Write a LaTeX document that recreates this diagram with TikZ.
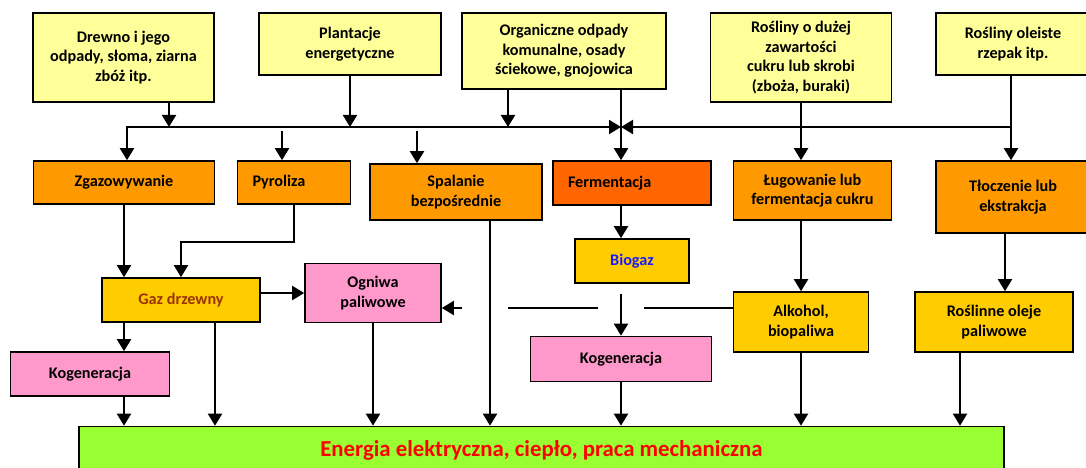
\documentclass[tikz,border=0pt]{standalone}
\usepackage{fontspec}
\setmainfont{Carlito}
\usepackage{tikz}
\usetikzlibrary{arrows.meta,positioning,calc}

\definecolor{srcyellow}{HTML}{FFFF99}
\definecolor{procorange}{HTML}{FF9900}
\definecolor{fermorange}{HTML}{FF6600}
\definecolor{fuelgold}{HTML}{FFCC00}
\definecolor{usepink}{HTML}{FF99CC}
\definecolor{outgreen}{HTML}{99FF33}
\definecolor{gasred}{HTML}{993300}
\definecolor{biogasblue}{HTML}{1A1AFF}

\begin{document}
\begin{tikzpicture}[
    x=1pt, y=-1pt,
    every node/.style={font=\fontsize{16.2}{19.5}\selectfont\bfseries, align=center, inner sep=2pt},
    size/.style 2 args={minimum width=#1pt, minimum height=#2pt},
    source/.style={rectangle, draw, line width=1.6pt, fill=srcyellow},
    process/.style={rectangle, draw, line width=1.6pt, fill=procorange},
    fuel/.style={rectangle, draw, line width=1.6pt, fill=fuelgold},
    usage/.style={rectangle, draw, line width=1.6pt, fill=usepink},
    output/.style={rectangle, draw, line width=1.6pt, fill=outgreen, font=\fontsize{22.8}{26}\selectfont\bfseries, text=red},
    arrow/.style={-{Triangle[length=12pt, width=14pt]}, line width=2pt},
    arrowboth/.style={{Triangle[length=12pt, width=14pt]}-{Triangle[length=12pt, width=14pt]}, line width=2pt},
    link/.style={line width=2pt}
]
\useasboundingbox (0,0) rectangle (1086,468);

% Sources
\node[source, size={181}{89}] (drewno) at (123.5,57.5) {Drewno i jego\\odpady, słoma, ziarna\\zbóż itp.};
\node[source, size={182}{62}] (plantacje) at (350,44) {Plantacje\\energetyczne};
\node[source, size={204}{76}] (organiczne) at (564,51) {Organiczne odpady\\komunalne, osady\\ściekowe, gnojowica};
\node[source, size={181}{89}] (cukier) at (801,57.5) {Rośliny o dużej\\zawartości\\cukru lub skrobi\\(zboża, buraki)};
\node[source, size={154}{62}] (oleiste) at (1013,44) {Rośliny oleiste\\rzepak itp.};

% Processes
\node[process, size={181}{43}] (zgaz) at (124,182.5) {Zgazowywanie};
\node[process, size={113}{43}, text width=83pt, inner xsep=15pt, align=left] (pyroliza) at (294,182.5) {Pyroliza};
\node[process, size={172}{56}] (spalanie) at (456,192) {Spalanie\\bezpośrednie};
\node[process, fill=fermorange, size={158}{44}, text width=128pt, inner xsep=15pt, align=left] (ferment) at (632,183) {Fermentacja};
\node[process, size={158}{59}] (lugowanie) at (812.5,190.5) {Ługowanie lub\\fermentacja cukru};
\node[process, size={154}{72}] (tloczenie) at (1013,197) {Tłoczenie lub\\ekstrakcja};

% Fuels and conversion
\node[fuel, size={158}{44}, text=gasred] (gaz) at (181,300) {Gaz drzewny};
\node[usage, size={136}{59}] (ogniwa) at (373,293) {Ogniwa\\paliwowe};
\node[fuel, size={114}{44}, text=biogasblue] (biogaz) at (632,261) {Biogaz};
\node[usage, size={159}{44}] (kogenL) at (90,374) {Kogeneracja};
\node[usage, size={181}{45}] (kogenR) at (621,359) {Kogeneracja};
\node[fuel, size={135}{60}] (alkohol) at (801,322) {Alkohol,\\biopaliwa};
\node[fuel, size={158}{60}] (oleje) at (994,322) {Roślinne oleje\\paliwowe};

% Output
\node[output, size={925}{47}] (energia) at (541.5,450) {Energia elektryczna, ciepło, praca mechaniczna};

% Bus
\coordinate (busL) at (127,127);
\coordinate (busR) at (1011,127);
\coordinate (jd) at (169,127);
\coordinate (jo) at (508,127);
\coordinate (jm) at (621,127);
\coordinate (p0) at (282,131);
\coordinate (s0) at (417,131);
\coordinate (pk) at (181,242);

\draw[arrow] (drewno.south -| jd) -- (jd);
\draw[arrow] (plantacje.south) -- (plantacje.south |- jd);
\draw[arrow] (organiczne.south -| jo) -- (jo);
\draw[arrowboth] (jm) -- (busL) -- (zgaz.north -| busL);
\draw[arrow] (oleiste.south -| busR) -- (tloczenie.north -| busR);
\draw[arrow] (busR) -- (jm);
\draw[arrow] (organiczne.south -| jm) -- (ferment.north -| jm);
\draw[arrow] (cukier.south) -- (cukier.south |- lugowanie.north);
\draw[arrow] (p0) -- (pyroliza.north -| p0);
\draw[arrow] (s0) -- (spalanie.north -| s0);

% Middle level
\draw[arrow] (zgaz.south) -- (zgaz.south |- gaz.north);
\draw[arrow] (pyroliza.south) |- (pk) -- (gaz.north);
\draw[arrow] (gaz.east |- ogniwa.west) -- (ogniwa.west);
\draw[arrow] (gaz.south -| zgaz.south) -- (kogenL.north -| zgaz.south);
\draw[arrow] (ferment.south -| jm) -- (biogaz.north -| jm);
\draw[arrow, shorten <=10pt] (biogaz.south -| kogenR.north) -- (kogenR.north);
\draw[arrow] (lugowanie.south -| alkohol.north) -- (alkohol.north);
\coordinate (t1) at ($(tloczenie.south)+(-8,0)$);
\draw[arrow] (t1) -- (t1 |- oleje.north);

% Alkohol to Ogniwa, with gaps at crossings
\coordinate (a1) at (644,308);
\coordinate (a2) at (598,308);
\coordinate (a3) at (508,308);
\coordinate (a4) at (462,308);
\draw[link] (alkohol.west |- a1) -- (a1);
\draw[link] (a2) -- (a3);
\draw[arrow] (a4) -- (ogniwa.east |- a4);

% Into the output
\coordinate (g1) at ($(gaz.south)+(34,0)$);
\coordinate (sp1) at ($(spalanie.south)+(34,0)$);
\coordinate (o1) at ($(oleje.south)+(-34,0)$);
\draw[arrow] (kogenL.south -| zgaz.south) -- (energia.north -| zgaz.south);
\draw[arrow] (g1) -- (g1 |- energia.north);
\draw[arrow] (ogniwa.south) -- (ogniwa.south |- energia.north);
\draw[arrow] (sp1) -- (sp1 |- energia.north);
\draw[arrow] (kogenR.south) -- (kogenR.south |- energia.north);
\draw[arrow] (alkohol.south) -- (alkohol.south |- energia.north);
\draw[arrow] (o1) -- (o1 |- energia.north);
\end{tikzpicture}
\end{document}
